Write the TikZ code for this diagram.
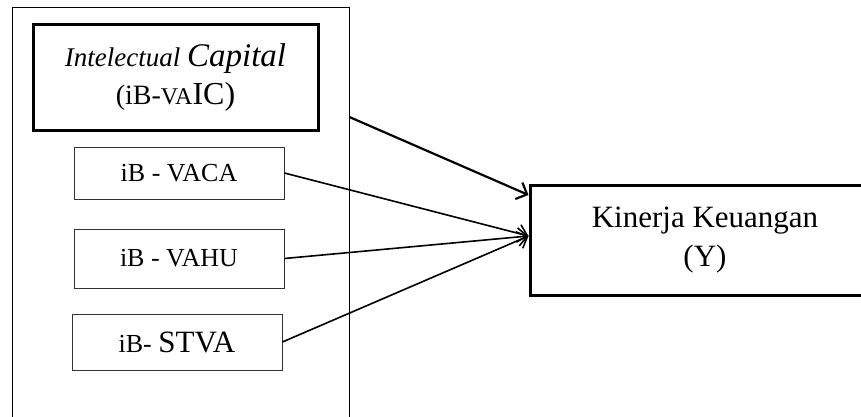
\documentclass[tikz,border=0pt]{standalone}
\usepackage{fontspec}
\setmainfont{Liberation Serif}
\usetikzlibrary{arrows.meta}

\newcommand{\fs}[2]{\fontsize{#1}{#2}\selectfont}

\begin{document}
\begin{tikzpicture}[x=1pt, y=-1pt,
		box/.style={rectangle, draw=black!80, line width=0.8pt, minimum width=210pt, minimum height=52pt, inner sep=0pt, font=\fs{26}{30}},
		bigbox/.style={rectangle, draw, line width=3pt, inner sep=0pt, align=center},
		arr/.style={-{Straight Barb[length=9pt, width=18pt]}, line width=1.6pt}]
		\useasboundingbox (0, 0) rectangle (861, 417);
		\draw (180.5, 216) node [rectangle, draw, line width=0.8pt, minimum width=337pt, minimum height=418pt] (frame) {};
		\draw (175.5, 77.5) node [bigbox, minimum width=285pt, minimum height=105pt, font=\fs{28}{38}] (ic) {{\fs{27}{38}\itshape Intelectual }{\fs{33}{38}\itshape Capital}\\ (iB-{\fs{24}{38}VA}{\fs{32}{38}IC)}};
		\draw (179, 173) node [box] (vaca) {iB - VACA};
		\draw (179, 258.5) node [box, minimum height=59pt] (vahu) {iB - VAHU};
		\draw (177, 342) node [box, minimum height=56pt] (stva) {iB- {\fs{31}{34}STVA}};
		\draw (705, 240) node [bigbox, minimum width=350pt, minimum height=110pt, font=\fs{31}{39}] (kin) {Kinerja Keuangan\\ (Y)};
		\path [arr, line width=2.2pt] ([yshift=99pt]frame.east) edge ([yshift=45pt]kin.west);
		\path [arr] (vaca.east) edge ([yshift=4pt]kin.west);
		\path [arr] (vahu.east) edge ([yshift=4pt]kin.west);
		\path [arr] (stva.east) edge ([yshift=4pt]kin.west);
	\end{tikzpicture}
\end{document}
